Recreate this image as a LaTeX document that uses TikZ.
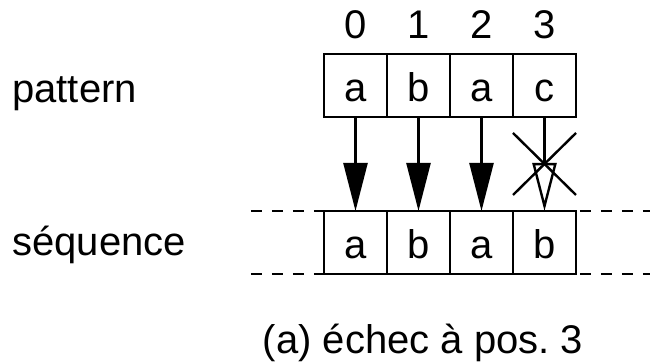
\documentclass[tikz,border=0pt]{standalone}
\usepackage{fontspec}
\setmainfont{Liberation Sans}
\usetikzlibrary{positioning,arrows.meta}
\tikzstyle{cell} = [draw, line width = 1.2pt, minimum width = 31.5pt, minimum height = 31.5pt, inner sep = 0pt, outer sep = 0pt, text height = 16.5pt, text depth = 0pt]
\tikzstyle{hit} = [line width = 1.2pt, -{Triangle[length = 24pt, width = 12pt]}]
\tikzstyle{miss} = [line width = 1.2pt, -{Triangle[open, length = 24pt, width = 12pt]}]
\tikzstyle{border} = [line width = 1.2pt, dash pattern = on 5.5pt off 5pt]

\begin{document}
\begin{tikzpicture}[font = \fontsize{20}{24}\selectfont]
        \useasboundingbox (0,0) rectangle (325pt,181.5pt);
        % pattern cells
        \node (p0) at (177.75pt, 138.75pt) [cell] {a};
        \node (p1) [cell, right = 0pt of p0] {b};
        \node (p2) [cell, right = 0pt of p1] {a};
        \node (p3) [cell, right = 0pt of p2] {c};
        % sequence cells
        \node (s0) [cell, below = 47pt of p0] {a};
        \node (s1) [cell, right = 0pt of s0] {b};
        \node (s2) [cell, right = 0pt of s1] {a};
        \node (s3) [cell, right = 0pt of s2] {b};
        % positions
        \node (n0) at ([yshift = 7.5pt]p0.north) [anchor = base] {0};
        \node (n1) at ([yshift = 7.5pt]p1.north) [anchor = base] {1};
        \node (n2) at ([yshift = 7.5pt]p2.north) [anchor = base] {2};
        \node (n3) at ([yshift = 7.5pt]p3.north) [anchor = base] {3};
        % row names and caption
        \node (pat) at (6pt, 130pt) [anchor = base west, inner sep = 0pt] {pattern};
        \node (seq) at (6pt, 53.5pt) [anchor = base west, inner sep = 0pt] {séquence};
        \node (capt) at (211.5pt, 4.5pt) [anchor = base, inner sep = 0pt] {(a) échec à pos.~3};
        % rest of the sequence
        \coordinate (tl) at (125.5pt, 0 |- s0.north);
        \coordinate (bl) at (125.5pt, 0 |- s0.south);
        \coordinate (tr) at (325pt, 0 |- s3.north);
        \coordinate (br) at (325pt, 0 |- s3.south);
        \draw [border] (tl) -- (s0.north west);
        \draw [border] (bl) -- (s0.south west);
        \draw [border, dash phase = 8.5pt] (s3.north east) -- (tr);
        \draw [border, dash phase = 8.5pt] (s3.south east) -- (br);
        % comparisons
        \draw [hit] (p0) -- (s0);
        \draw [hit] (p1) -- (s1);
        \draw [hit] (p2) -- (s2);
        \draw [miss] (p3) -- (s3);
        \draw [line width = 1.2pt] ([yshift = -8pt]p3.south west) -- ([yshift = -39pt]p3.south east);
        \draw [line width = 1.2pt] ([yshift = -8pt]p3.south east) -- ([yshift = -39pt]p3.south west);
    \end{tikzpicture}
\end{document}
